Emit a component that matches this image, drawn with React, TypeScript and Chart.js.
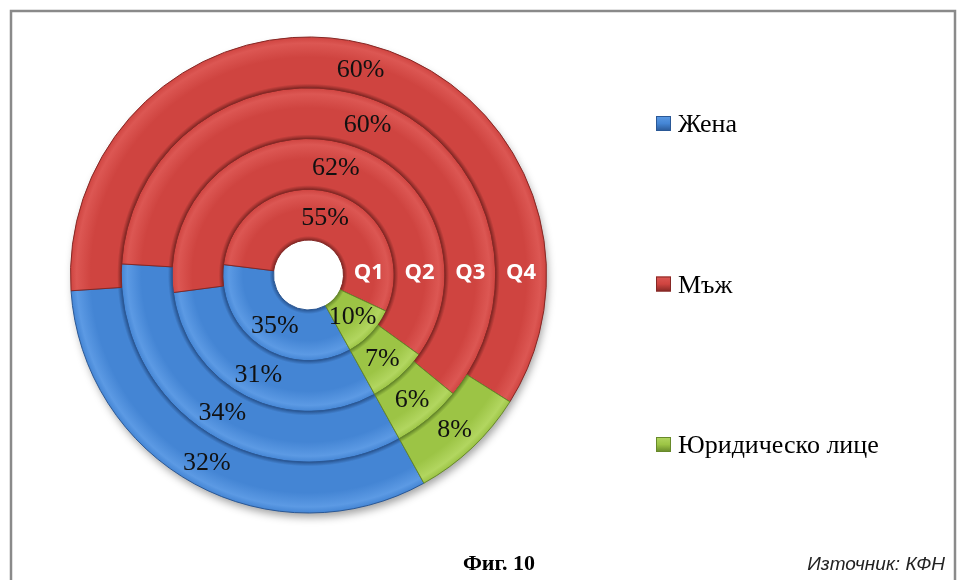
import { useEffect, useRef } from 'react';
import { Chart, registerables } from 'chart.js';

Chart.register(...registerables);

// Share of clients by type, per quarter (inner ring = Q1, outer ring = Q4)
const quarters = ['Q1', 'Q2', 'Q3', 'Q4'];
const categories = ['Жена', 'Мъж', 'Юридическо лице'];
const zhena = [35, 31, 34, 32];
const mazh = [55, 62, 60, 60];
const yuridichesko = [10, 7, 6, 8];
const figureTitle = 'Фиг. 10';
const sourceNote = 'Източник: КФН';

const W = 957;
const H = 580;
const CX = 308.5;
const CY = 275;
const R = 238.5;
const HOLE = 35;

type Shade = { base: string; light: string; dark: string };
const shades: Shade[] = [
  { base: '#4485d4', light: '#5c9ae4', dark: '#2a5896' },
  { base: '#cf4440', light: '#dc5753', dark: '#862825' },
  { base: '#9cc445', light: '#b2d660', dark: '#67892a' },
];

// Chart.js draws the first dataset as the outer ring
const ringOrder = quarters.map((_, i) => i).reverse();

const ringFill = (ctx: any) => {
  const shade = shades[ctx.dataIndex ?? 0] || shades[0];
  const chart = ctx.chart;
  if (ctx.datasetIndex === undefined || !chart.chartArea) return shade.base;
  const ctrl: any = chart.getDatasetMeta(ctx.datasetIndex).controller;
  const ir = ctrl?.innerRadius;
  const or = ctrl?.outerRadius;
  if (!or || !(or > ir)) return shade.base;
  const a = chart.chartArea;
  const cx = (a.left + a.right) / 2;
  const cy = (a.top + a.bottom) / 2;
  const g = chart.ctx.createRadialGradient(cx, cy, ir, cx, cy, or);
  g.addColorStop(0, shade.dark);
  g.addColorStop(0.08, shade.base);
  g.addColorStop(0.6, shade.base);
  g.addColorStop(0.88, shade.light);
  g.addColorStop(1, shade.base);
  return g;
};

const ringBorder = (ctx: any) => {
  const shade = shades[ctx.dataIndex ?? 0] || shades[0];
  return shade.dark;
};

const framePlugin = {
  id: 'frameAndShadow',
  beforeDraw(chart: any) {
    const ctx = chart.ctx;
    ctx.save();
    ctx.fillStyle = '#ffffff';
    ctx.fillRect(0, 0, W, H);
    ctx.strokeStyle = '#8a8a8a';
    ctx.lineWidth = 2.5;
    ctx.beginPath();
    ctx.moveTo(11, H);
    ctx.lineTo(11, 11);
    ctx.lineTo(955, 11);
    ctx.lineTo(955, H);
    ctx.stroke();
    ctx.restore();
  },
  beforeDatasetsDraw(chart: any) {
    const ctx = chart.ctx;
    const a = chart.chartArea;
    const cx = (a.left + a.right) / 2;
    const cy = (a.top + a.bottom) / 2;
    const outer: any = chart.getDatasetMeta(0).controller;
    ctx.save();
    ctx.shadowColor = 'rgba(0,0,0,0.38)';
    ctx.shadowBlur = 9;
    ctx.shadowOffsetX = 2;
    ctx.shadowOffsetY = 5;
    ctx.fillStyle = '#9a9a9a';
    ctx.beginPath();
    ctx.arc(cx, cy, outer.outerRadius - 1, 0, Math.PI * 2);
    ctx.fill();
    ctx.restore();
    ctx.save();
    ctx.fillStyle = '#ffffff';
    ctx.beginPath();
    ctx.arc(cx, cy, HOLE, 0, Math.PI * 2);
    ctx.fill();
    ctx.restore();
  },
};

const labelPlugin = {
  id: 'ringLabels',
  afterDatasetsDraw(chart: any) {
    const ctx = chart.ctx;
    const a = chart.chartArea;
    const cx = (a.left + a.right) / 2;
    const cy = (a.top + a.bottom) / 2;
    ctx.save();
    ctx.textAlign = 'center';
    ctx.textBaseline = 'middle';
    chart.data.datasets.forEach((ds: any, di: number) => {
      const meta = chart.getDatasetMeta(di);
      ctx.font = '26px "Liberation Serif"';
      ctx.fillStyle = '#111111';
      meta.data.forEach((arc: any, i: number) => {
        const p = arc.getCenterPoint();
        ctx.fillText(`${ds.data[i]}%`, p.x, p.y + 1);
      });
      const ctrl: any = meta.controller;
      const mid = (ctrl.innerRadius + ctrl.outerRadius) / 2;
      ctx.font = 'bold 22px "Open Sans"';
      ctx.fillStyle = '#ffffff';
      ctx.fillText(ds.label, cx + mid, cy - 2);
    });
    ctx.restore();
  },
  afterDraw(chart: any) {
    const ctx = chart.ctx;
    ctx.save();
    // legend
    const legendY = [123.5, 284, 444.5];
    categories.forEach((name, i) => {
      const s = shades[i];
      const x = 656;
      const y = legendY[i] - 7.5;
      const g = ctx.createLinearGradient(0, y, 0, y + 15);
      g.addColorStop(0, s.light);
      g.addColorStop(0.5, s.base);
      g.addColorStop(1, s.dark);
      ctx.fillStyle = g;
      ctx.fillRect(x, y, 15, 15);
      ctx.strokeStyle = s.dark;
      ctx.lineWidth = 1;
      ctx.strokeRect(x + 0.5, y + 0.5, 14, 14);
      ctx.fillStyle = '#000000';
      ctx.font = '26px "Liberation Serif"';
      ctx.textAlign = 'left';
      ctx.textBaseline = 'alphabetic';
      ctx.fillText(name, 678, legendY[i] + 8.5);
    });
    // caption and source
    ctx.fillStyle = '#000000';
    ctx.font = 'bold 22px "Liberation Serif"';
    ctx.textAlign = 'center';
    ctx.fillText(figureTitle, 499, 570);
    ctx.font = 'italic 19px "Liberation Sans"';
    ctx.fillStyle = '#222222';
    ctx.textAlign = 'right';
    ctx.fillText(sourceNote, 945, 570);
    ctx.restore();
  },
};

export default function App() {
  const ref = useRef<HTMLCanvasElement>(null);

  useEffect(() => {
    const canvas = ref.current;
    if (!canvas) return;
    const chart = new Chart(canvas, {
      type: 'doughnut',
      data: {
        labels: categories,
        datasets: ringOrder.map((q) => ({
          label: quarters[q],
          data: [zhena[q], mazh[q], yuridichesko[q]],
          backgroundColor: ringFill,
          borderColor: ringBorder,
          borderWidth: 1,
          hoverOffset: 0,
        })),
      },
      options: {
        responsive: false,
        animation: false,
        rotation: 151,
        cutout: HOLE,
        layout: {
          padding: {
            left: CX - R,
            right: W - (CX + R),
            top: CY - R,
            bottom: H - (CY + R),
          },
        },
        plugins: {
          legend: { display: false },
          tooltip: { enabled: false },
        },
        events: [],
      },
      plugins: [framePlugin, labelPlugin],
    });
    return () => chart.destroy();
  }, []);

  return (
    <div style={{ position: 'fixed', left: 0, top: 0, width: W, height: H, background: '#fff' }}>
      <canvas ref={ref} width={W} height={H} style={{ display: 'block', width: W, height: H }} />
    </div>
  );
}
